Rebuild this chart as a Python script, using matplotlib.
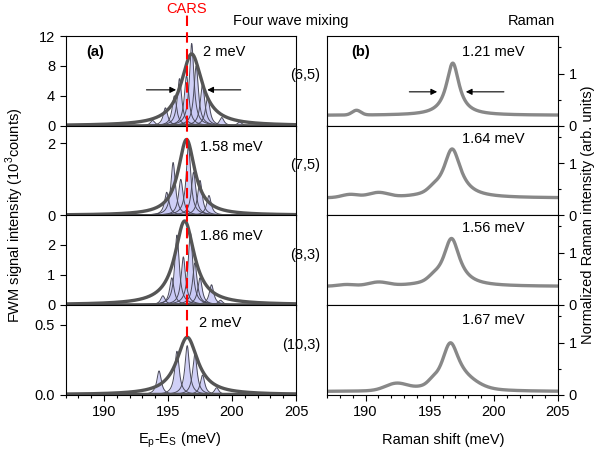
import numpy as np
import matplotlib
matplotlib.use("Agg")
import matplotlib.pyplot as plt
from matplotlib.ticker import MultipleLocator

plt.rcParams["font.family"] = ["Liberation Sans", "DejaVu Sans"]
plt.rcParams["font.size"] = 10.5

# ---- FWM panels (a): Lorentzian fit parameters per tube
chirality = ["(6,5)", "(7,5)", "(8,3)", "(10,3)"]
fwm_center = [196.85, 196.45, 196.3, 196.5]
fwm_fwhm = [2.0, 1.58, 1.86, 2.0]
fwm_amp = [9.6, 2.11, 2.8, 0.41]
fwm_labels = ["2 meV", "1.58 meV", "1.86 meV", "2 meV"]
fwm_ylim = [12.0, 2.5, 3.0, 0.64]
fwm_yticks = [[0, 4, 8, 12], [0, 2], [0, 1, 2], [0.0, 0.5]]
fwm_yticklabels = [["0", "4", "8", "12"], ["0", "2"], ["0", "1", "2"], ["0.0", "0.5"]]

# narrow spectral components under each fit (position meV, height)
comp_pos = [
    [193.8, 194.8, 195.5, 195.9, 196.45, 196.85, 197.2, 197.7, 198.1, 199.2, 200.6],
    [194.9, 195.4, 196.0, 196.6, 197.0, 197.5, 198.2],
    [194.6, 195.3, 195.7, 196.2, 196.75, 197.1, 197.5, 198.4, 199.1],
    [194.3, 195.7, 196.5, 197.1, 197.7, 198.8],
]
comp_h = [
    [0.7, 2.4, 4.0, 6.3, 6.7, 11.0, 8.0, 5.5, 3.8, 1.1, 0.5],
    [0.64, 1.47, 1.0, 1.94, 1.2, 0.97, 0.55],
    [0.3, 0.9, 2.33, 1.6, 2.4, 1.4, 0.9, 0.67, 0.15],
    [0.17, 0.31, 0.35, 0.29, 0.14, 0.05],
]
comp_width = 0.42

# ---- Raman panels (b)
ram_base = [0.20, 0.33, 0.35, 0.06]
ram_center = [196.8, 196.75, 196.7, 196.6]
ram_fwhm = [1.21, 1.64, 1.56, 1.67]
ram_height = [1.0, 0.94, 0.92, 0.88]
ram_labels = ["1.21 meV", "1.64 meV", "1.56 meV", "1.67 meV"]
# weak side features (center, width, height)
ram_bumps = [
    [(189.3, 0.8, 0.09)],
    [(188.8, 1.5, 0.06), (191.0, 1.8, 0.09), (195.3, 1.0, 0.06)],
    [(188.5, 1.5, 0.03), (191.0, 1.8, 0.07), (195.3, 1.0, 0.06)],
    [(192.4, 2.0, 0.13), (195.2, 0.8, 0.05), (197.8, 2.4, 0.11)],
]

cars_pos = 196.5
xlim = (187, 205)
W, H = 596.0, 453.0


def lorentz(x, c, w, a):
    return a / (1 + (2 * (x - c) / w) ** 2)


def gauss(x, c, w, a):
    return a * np.exp(-0.5 * ((x - c) / (w / 2.355)) ** 2)


x = np.linspace(xlim[0], xlim[1], 1500)

fig = plt.figure(figsize=(W / 100, H / 100), dpi=100)

row_top = [36, 125.5, 215, 305]
row_h = 89.75
left_axes = []
right_axes = []
for i in range(4):
    b = 1 - (row_top[i] + row_h) / H
    left_axes.append(fig.add_axes([65.6 / W, b, 230.4 / W, row_h / H]))
    right_axes.append(fig.add_axes([327 / W, b, 231 / W, row_h / H]))

fit_col = "#555555"
fill_col = "#c8c8f6"
ram_col = "#888888"

fwm_lab_x = [197.7, 197.5, 197.5, 197.45]
fwm_lab_y = [0.82, 0.76, 0.77, 0.80]

for i, ax in enumerate(left_axes):
    # narrow components
    for p, h in zip(comp_pos[i], comp_h[i]):
        y = lorentz(x, p, comp_width, h)
        ax.fill_between(x, 0, y, color=fill_col, alpha=0.85, lw=0)
        ax.plot(x, y, color="#4a4a5a", lw=0.7)
    ax.axhline(0.004 * fwm_ylim[i], color=fit_col, lw=2.5 if i == 3 else 1.2)
    ax.plot(x, lorentz(x, fwm_center[i], fwm_fwhm[i], fwm_amp[i]), color=fit_col, lw=2.4)

    ax.set_xlim(*xlim)
    ax.set_ylim(0, fwm_ylim[i])
    ax.set_yticks(fwm_yticks[i])
    ax.set_yticklabels(fwm_yticklabels[i])
    ax.xaxis.set_major_locator(MultipleLocator(5))
    ax.xaxis.set_minor_locator(MultipleLocator(1))
    ax.tick_params(which="major", length=4, width=0.8)
    ax.tick_params(which="minor", length=2.5, width=0.8)
    if i < 3:
        ax.tick_params(labelbottom=False)
    ax.text(fwm_lab_x[i], fwm_lab_y[i], fwm_labels[i], transform=ax.get_xaxis_transform(),
            ha="left", va="center")
    # red CARS line
    dash = dict(color="red", lw=1.5, ls=(0, (5, 3)), zorder=5)
    if i == 0:
        ax.plot([cars_pos, cars_pos], [0, fwm_ylim[i] * 1.24], clip_on=False, **dash)
    elif i < 3:
        ax.axvline(cars_pos, **dash)
    else:
        ax.plot([cars_pos, cars_pos], [fwm_amp[i], fwm_ylim[i]], **dash)

ram_lab_y = [0.82, 0.85, 0.85, 0.83]
for i, ax in enumerate(right_axes):
    y = ram_base[i] + lorentz(x, ram_center[i], ram_fwhm[i], ram_height[i])
    for c, w, a in ram_bumps[i]:
        y = y + gauss(x, c, w, a)
    ax.plot(x, y, color=ram_col, lw=2.4)
    ax.set_xlim(*xlim)
    ax.set_ylim(0, 1.72)
    ax.yaxis.tick_right()
    ax.set_yticks([0, 1])
    ax.yaxis.set_minor_locator(MultipleLocator(0.5))
    ax.xaxis.set_major_locator(MultipleLocator(5))
    ax.xaxis.set_minor_locator(MultipleLocator(1))
    ax.tick_params(which="major", length=4, width=0.8)
    ax.tick_params(which="minor", length=2.5, width=0.8)
    if i < 3:
        ax.tick_params(labelbottom=False)
    ax.text(197.5, ram_lab_y[i], ram_labels[i],
            transform=ax.get_xaxis_transform(), ha="left", va="center")

# FWHM arrows
arw = dict(arrowstyle="-|>", color="black", lw=0.8, mutation_scale=9)
ax0 = left_axes[0]
hm = fwm_amp[0] / 2
ax0.annotate("", xy=(fwm_center[0] - fwm_fwhm[0] / 2, hm), xytext=(193.1, hm), arrowprops=arw)
ax0.annotate("", xy=(fwm_center[0] + fwm_fwhm[0] / 2, hm), xytext=(200.9, hm), arrowprops=arw)
axr0 = right_axes[0]
hm = ram_base[0] + ram_height[0] / 2 - 0.05
axr0.annotate("", xy=(195.8, hm), xytext=(193.2, hm), arrowprops=arw)
axr0.annotate("", xy=(197.6, hm), xytext=(201.0, hm), arrowprops=arw)

left_axes[0].text(188.6, 0.82, "(a)", transform=left_axes[0].get_xaxis_transform(),
                  fontweight="bold", va="center")
right_axes[0].text(188.9, 0.82, "(b)", transform=right_axes[0].get_xaxis_transform(),
                   fontweight="bold", va="center")

# chirality labels
for i, lab in enumerate(chirality):
    yc = row_top[i] + [39, 40, 40, 40][i]
    fig.text(320 / W, 1 - yc / H, lab, ha="right", va="center")

fig.text(187 / W, 1 - 9 / H, "CARS", color="red", ha="center", va="center")
fig.text(291 / W, 1 - 21 / H, "Four wave mixing", ha="center", va="center")
fig.text(555 / W, 1 - 21 / H, "Raman", ha="right", va="center")

fig.text(180 / W, 1 - 440 / H, "E$_\\mathregular{p}$-E$_\\mathregular{S}$ (meV)", ha="center", va="center")
fig.text(443 / W, 1 - 440 / H, "Raman shift (meV)", ha="center", va="center")
fig.text(15 / W, 1 - 215 / H, "FWM signal intensity (10$^\\mathregular{3}$counts)",
         rotation=90, ha="center", va="center")
fig.text(588 / W, 1 - 215 / H, "Normalized Raman intensity (arb. units)",
         rotation=90, ha="center", va="center")

fig.savefig("out.png", dpi=100)
